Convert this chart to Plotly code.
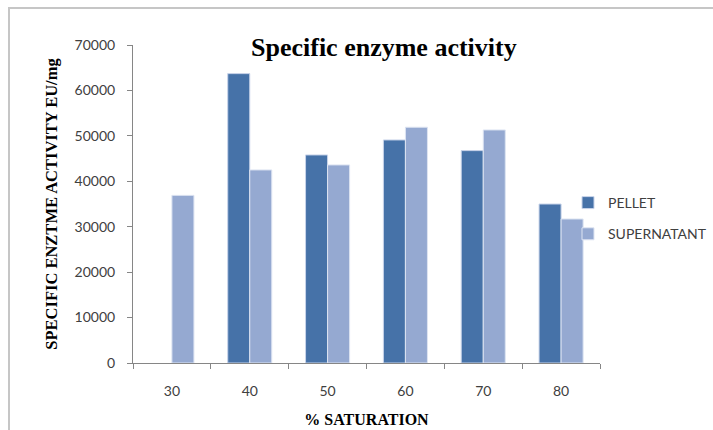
import plotly.graph_objects as go

# % ammonium sulfate saturation and specific activity (EU/mg) of each fraction
saturation = ["30", "40", "50", "60", "70", "80"]
pellet = [None, 63700, 45800, 49100, 46750, 35000]
supernatant = [36900, 42500, 43600, 51900, 51300, 31700]

W, H = 713, 430
L, R, T, B = 133, 113, 45, 67

AXIS_GREY = "#868686"
SERIF = "Liberation Serif"
SANS = "Lato"

fig = go.Figure()
fig.add_trace(go.Bar(
    x=saturation, y=pellet, name="PELLET",
    marker=dict(color="#4672A8", line=dict(color="#c9d4ea", width=1)),
    legendgroup="p",
))
fig.add_trace(go.Bar(
    x=saturation, y=supernatant, name="SUPERNATANT",
    marker=dict(color="#95A9D1", line=dict(color="#dde4f2", width=1)),
    legendgroup="s",
))

# pixel -> paper helpers for the frame and legend placement
pw = W - L - R
ph = H - T - B
def px_x(v):
    return (v - L) / pw
def px_y(v):
    return (H - B - v) / ph

# light frame along the top and left edges of the figure
fig.add_shape(
    type="path", xref="paper", yref="paper",
    path=f"M {px_x(9)} {px_y(432)} L {px_x(9)} {px_y(8)} L {px_x(716)} {px_y(8)}",
    line=dict(color="#c6c6c6", width=2),
)

fig.update_layout(
    width=W, height=H,
    margin=dict(l=L, r=R, t=T, b=B, pad=0, autoexpand=False),
    paper_bgcolor="white", plot_bgcolor="white",
    barmode="group", bargap=0.434, bargroupgap=0,
    title=dict(
        text="<b>Specific enzyme activity</b>",
        font=dict(family=SERIF, size=26, color="black"),
        x=383 / W, xanchor="center", xref="paper",
        y=1 - 47 / H, yanchor="middle", yref="container",
    ),
    legend=dict(
        x=px_x(568), y=px_y(187),
        font=dict(family=SANS, size=14, color="#404040"),
        tracegroupgap=10, bgcolor="rgba(0,0,0,0)",
        xanchor="left", yanchor="top",
    ),
    showlegend=True,
    xaxis=dict(
        type="category", tickson="boundaries", automargin=False,
        showline=True, linecolor=AXIS_GREY, linewidth=1,
        ticks="outside", ticklen=5, tickcolor=AXIS_GREY,
        ticklabelstandoff=15,
        tickfont=dict(family=SANS, size=14, color="#404040"),
        showgrid=False, zeroline=False,
        title=dict(text="<b>% SATURATION</b>",
                   font=dict(family=SERIF, size=16, color="black"), standoff=16),
    ),
    yaxis=dict(
        range=[0, 70000], dtick=10000, automargin=False,
        showline=True, linecolor=AXIS_GREY, linewidth=1,
        ticks="outside", ticklen=5, tickcolor=AXIS_GREY,
        ticklabelstandoff=9,
        tickfont=dict(family=SANS, size=14, color="#404040"),
        showgrid=False, zeroline=False,
        tickformat="d",
        title=dict(text="<b>SPECIFIC ENZTME ACTIVITY EU/mg</b>",
                   font=dict(family=SERIF, size=16.5, color="black"), standoff=12),
    ),
)

fig.write_html("out.html")
